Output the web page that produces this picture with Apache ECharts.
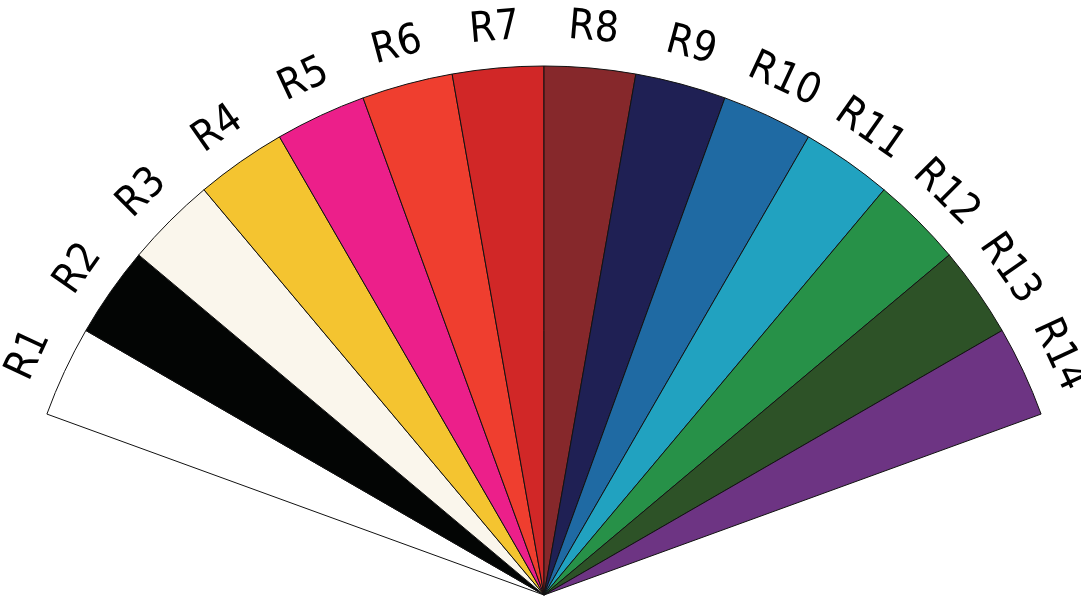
<!DOCTYPE html>
<html><head><meta charset="utf-8">
<script src="https://cdn.jsdelivr.net/npm/echarts@6/dist/echarts.min.js"></script>
<style>html,body{margin:0;padding:0;background:#fff}#c{width:1081px;height:599px}</style>
</head><body><div id="c"></div>
<script>
const categories = ['R1','R2','R3','R4','R5','R6','R7','R8','R9','R10','R11','R12','R13','R14'];
const values = [1,1,1,1,1,1,1,1,1,1,1,1,1,1];
const colors = ['#ffffff','#030504','#faf6ec','#f4c430','#ec1f8a','#ef3e2f','#d12727','#86282b','#1f2054','#1f6aa3','#21a2c0','#279148','#2d5227','#6d3483'];

const chart = echarts.init(document.getElementById('c'));
const sliceData = categories.map((c,i)=>({name:c,value:values[i],itemStyle:{color:colors[i]}}));
const labelData = categories.map((c,i)=>({name:c,value:values[i]}));
chart.setOption({
  animation:false,
  series:[
    {type:'pie',center:[544,595],radius:[0,529],startAngle:160,endAngle:20,clockwise:true,
     silent:true,data:sliceData,
     itemStyle:{borderColor:'#111',borderWidth:1},
     label:{show:false},labelLine:{show:false}},
    {type:'pie',center:[544,595],radius:[529,601],startAngle:160,endAngle:20,clockwise:true,
     silent:true,data:labelData,
     itemStyle:{color:'rgba(0,0,0,0)',borderWidth:0},
     label:{show:true,position:'inside',rotate:'tangential',formatter:'{b}',
       fontFamily:"'Liberation Sans Narrow', 'DejaVu Sans Condensed', 'Liberation Sans', sans-serif",fontSize:42,color:'#000'},
     labelLine:{show:false}}
  ]
});
</script></body></html>
